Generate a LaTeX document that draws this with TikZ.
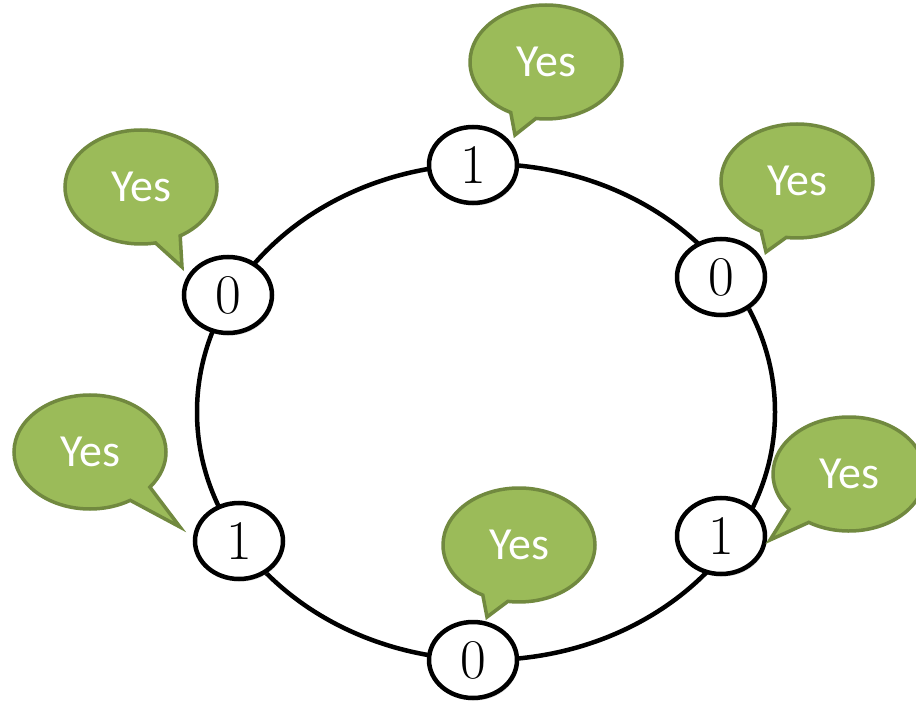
\documentclass[tikz,border=0pt]{standalone}
\usepackage{fontspec}
\newfontfamily\calib{Carlito}
\usetikzlibrary{shapes.geometric,shapes.callouts,shadows}
\definecolor{olivefill}{HTML}{9BBB59}
\definecolor{olivedraw}{HTML}{71893F}
\begin{document}
\begin{tikzpicture}[x=1pt,y=-1pt,
  bit/.style={ellipse,draw=black,line width=4.5pt,fill=white,
    minimum width=88pt,minimum height=76pt,inner sep=0pt,
    font=\fontsize{56}{56}\selectfont,
    drop shadow={shadow xshift=1.5pt,shadow yshift=-2.5pt,opacity=0.3}},
  bubble/.style={ellipse callout,draw=olivedraw,fill=olivefill,line width=3.5pt,
    minimum width=152pt,minimum height=114pt,inner sep=0pt,text=white,
    font=\calib\fontsize{46}{46}\selectfont,callout pointer arc=20},
  ring/.style={line width=4.5pt,draw=black}]
\useasboundingbox (0,0) rectangle (916,703);
\fill[white] (0,0) rectangle (916,703);
\draw[ring] (486,412) ellipse [x radius=289, y radius=248];

\node[bit] (n1) at (473,165) {1};
\node[bit] (n2) at (721,277) {0};
\node[bit] (n3) at (721,536) {1};
\node[bit] (n4) at (473,660) {0};
\node[bit] (n5) at (239,541) {1};
\node[bit] (n6) at (228,295) {0};

\coordinate (t1) at (515,135);
\coordinate (t2) at (766,252);
\coordinate (t3) at (770,540);
\coordinate (t4) at (487,617);
\coordinate (t5) at (180,527);
\coordinate (t6) at (182,267);

\node[bubble,callout absolute pointer={(t1)}] (b1) at (546,62) {Yes};
\node[bubble,callout absolute pointer={(t2)}] (b2) at (797,181) {Yes};
\node[bubble,callout absolute pointer={(t3)}] (b3) at (849,474) {Yes};
\node[bubble,callout absolute pointer={(t4)}] (b4) at (519,545) {Yes};
\node[bubble,callout absolute pointer={(t5)}] (b5) at (90,452) {Yes};
\node[bubble,callout absolute pointer={(t6)}] (b6) at (141,187) {Yes};
\end{tikzpicture}
\end{document}
